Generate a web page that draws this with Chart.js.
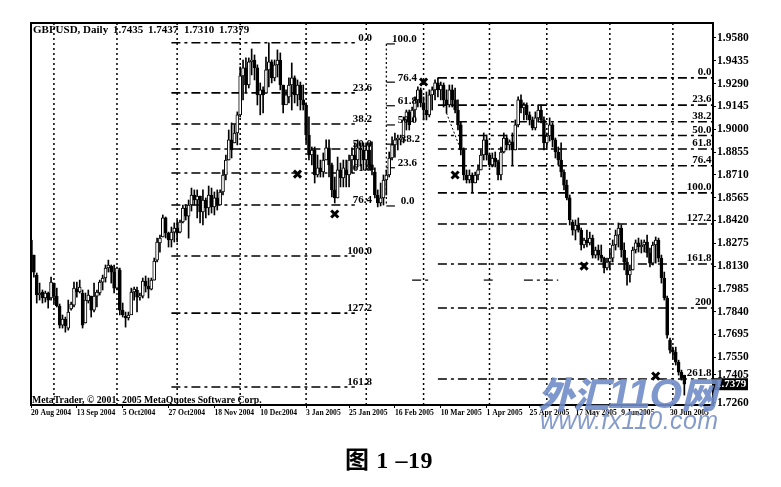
<!DOCTYPE html>
<html><head><meta charset="utf-8">
<script src="https://cdn.jsdelivr.net/npm/chart.js@4"></script>
<style>
html,body{margin:0;padding:0;background:#fff;width:781px;height:487px;overflow:hidden}
#w{position:relative;width:781px;height:487px;filter:blur(.35px)}
canvas{position:absolute;left:0;top:0}
.t{position:absolute;white-space:pre;color:#000;font-family:"Liberation Serif",serif;font-weight:bold}
.h{top:23px;font-size:11px}
</style></head><body>
<div id="w">
<canvas id="c" width="781" height="487"></canvas>
<div class="t h" style="left:33px">GBPUSD, Daily</div>
<div class="t h" style="left:113px">1.7435</div>
<div class="t h" style="left:148px">1.7437</div>
<div class="t h" style="left:184px">1.7310</div>
<div class="t h" style="left:219px">1.7379</div>
<div class="t" style="left:32px;top:394px;font-size:9.8px;">MetaTrader, © 2001- 2005 MetaQuotes Software Corp.</div>
<div class="t" style="left:345px;top:440px;font-size:24px;letter-spacing:.6px"><span style="font-family:'Noto Sans CJK SC'">图</span> 1 –19</div>
<div class="t" style="left:538px;top:366px;font-family:'Noto Sans CJK SC';font-style:italic;font-weight:900;font-size:36px;color:rgba(112,140,198,.9);letter-spacing:-1px;">外汇<span style="font-family:'Liberation Sans';font-size:42px;">11O</span>网</div>
<div class="t" style="left:540px;top:406px;font-family:'Liberation Sans';font-style:italic;font-weight:normal;font-size:25px;color:rgba(125,150,200,.95);letter-spacing:.4px;">www.fx110.com</div>
</div>
<script>
const pair = 'GBPUSD';
const tickIndices = [0,16,32,48,64,80,96,111,127,143,159,174,190,206,223];
const tickLabels = ['20 Aug 2004','13 Sep 2004','5 Oct2004','27 Oct2004','18 Nov 2004','10 Dec2004','3 Jan 2005','25 Jan 2005','16 Feb 2005','10 Mar 2005','1 Apr 2005','25 Apr 2005','17 May 2005','9 Jun2005','30 Jun 2005'];
const yTickValues = [1.9580,1.9435,1.9290,1.9145,1.9000,1.8855,1.8710,1.8565,1.8420,1.8275,1.8130,1.7985,1.7840,1.7695,1.7550,1.7440,1.7260];
const yTickLabels = ['1.9580','1.9435','1.9290','1.9145','1.9000','1.8855','1.8710','1.8565','1.8420','1.8275','1.8130','1.7985','1.7840','1.7695','1.7550','1.7405','1.7260'];

const opens = [1.8296,1.8200,1.8073,1.7946,1.7965,1.7927,1.7959,1.7927,1.8022,1.7939,
1.7876,1.7755,1.7793,1.7736,1.7857,1.7882,1.7984,1.7965,1.7959,1.7768,
1.7908,1.7939,1.7850,1.7939,1.7959,1.8028,1.8054,1.8118,1.8130,1.8092,
1.7990,1.8105,1.7850,1.7812,1.7800,1.7819,1.7965,1.7978,1.7933,1.7939,
1.8035,1.8003,1.7984,1.8041,1.8168,1.8277,1.8315,1.8436,1.8340,1.8296,
1.8346,1.8372,1.8346,1.8410,1.8499,1.8448,1.8518,1.8582,1.8550,1.8575,
1.8474,1.8550,1.8499,1.8582,1.8506,1.8563,1.8518,1.8601,1.8709,1.8804,
1.8932,1.8913,1.8976,1.9091,1.9339,1.9390,1.9281,1.9428,1.9440,1.9390,
1.9218,1.9250,1.9231,1.9377,1.9428,1.9326,1.9409,1.9440,1.9281,1.9154,
1.9205,1.9281,1.9326,1.9218,1.9281,1.9186,1.9154,1.8963,1.8836,1.8868,
1.8709,1.8754,1.8728,1.8804,1.8881,1.8773,1.8614,1.8563,1.8741,1.8690,
1.8741,1.8709,1.8804,1.8836,1.8804,1.8881,1.8868,1.8804,1.8868,1.8773,
1.8728,1.8582,1.8531,1.8563,1.8677,1.8709,1.8817,1.8900,1.8932,1.8932,
1.8944,1.9059,1.9110,1.9046,1.9122,1.9186,1.9250,1.9167,1.9122,1.9091,
1.9218,1.9250,1.9294,1.9250,1.9281,1.9186,1.9154,1.9250,1.9186,1.9122,
1.9027,1.8868,1.8709,1.8677,1.8709,1.8658,1.8709,1.8741,1.8836,1.8932,
1.8836,1.8773,1.8817,1.8792,1.8709,1.8855,1.8944,1.8900,1.8919,1.8868,
1.9027,1.9186,1.9135,1.9154,1.9091,1.9059,1.9008,1.9072,1.9122,1.9059,
1.8913,1.8957,1.9027,1.8932,1.8855,1.8804,1.8728,1.8645,1.8563,1.8410,
1.8359,1.8391,1.8359,1.8264,1.8296,1.8277,1.8308,1.8200,1.8232,1.8200,
1.8181,1.8118,1.8156,1.8181,1.8264,1.8327,1.8372,1.8232,1.8156,1.8073,
1.8105,1.8232,1.8277,1.8251,1.8264,1.8283,1.8213,1.8149,1.8264,1.8296,
1.8181,1.8054,1.7927,1.7660,1.7596,1.7583,1.7520,1.7456,1.7435];

const closes = [1.8200,1.8092,1.7946,1.7959,1.7927,1.7959,1.7914,1.8028,1.7939,1.7876,
1.7755,1.7793,1.7749,1.7838,1.7889,1.7990,1.7965,1.7997,1.7755,1.7914,
1.7946,1.7850,1.7939,1.7965,1.8028,1.8054,1.8118,1.8137,1.8092,1.7990,
1.8118,1.7850,1.7819,1.7800,1.7819,1.7965,1.7984,1.7933,1.7939,1.8035,
1.8003,1.7984,1.8041,1.8162,1.8283,1.8308,1.8436,1.8340,1.8296,1.8346,
1.8372,1.8340,1.8410,1.8499,1.8448,1.8518,1.8582,1.8550,1.8575,1.8474,
1.8550,1.8499,1.8582,1.8506,1.8563,1.8518,1.8601,1.8709,1.8804,1.8932,
1.8868,1.8976,1.9091,1.9339,1.9390,1.9281,1.9428,1.9440,1.9390,1.9218,
1.9250,1.9218,1.9377,1.9428,1.9326,1.9409,1.9440,1.9281,1.9154,1.9218,
1.9281,1.9326,1.9218,1.9281,1.9186,1.9154,1.8963,1.8836,1.8868,1.8709,
1.8754,1.8728,1.8804,1.8881,1.8773,1.8614,1.8563,1.8741,1.8690,1.8754,
1.8709,1.8804,1.8836,1.8804,1.8881,1.8868,1.8804,1.8868,1.8773,1.8741,
1.8582,1.8531,1.8563,1.8677,1.8709,1.8817,1.8900,1.8932,1.8944,1.8944,
1.9059,1.9110,1.9027,1.9122,1.9186,1.9250,1.9167,1.9122,1.9091,1.9218,
1.9250,1.9294,1.9250,1.9281,1.9186,1.9154,1.9250,1.9186,1.9122,1.9027,
1.8868,1.8709,1.8677,1.8709,1.8658,1.8709,1.8741,1.8836,1.8932,1.8836,
1.8773,1.8817,1.8792,1.8709,1.8855,1.8944,1.8900,1.8919,1.8868,1.9027,
1.9186,1.9135,1.9154,1.9091,1.9059,1.9008,1.9072,1.9122,1.9059,1.8913,
1.8957,1.9027,1.8932,1.8855,1.8804,1.8728,1.8645,1.8563,1.8423,1.8359,
1.8391,1.8359,1.8264,1.8296,1.8277,1.8308,1.8200,1.8232,1.8200,1.8181,
1.8118,1.8156,1.8181,1.8264,1.8327,1.8372,1.8232,1.8156,1.8073,1.8105,
1.8232,1.8277,1.8251,1.8264,1.8283,1.8213,1.8149,1.8264,1.8296,1.8181,
1.8054,1.7927,1.7691,1.7596,1.7583,1.7520,1.7456,1.7418,1.7379];

const highs = [1.8315,1.8200,1.8086,1.8022,1.7978,1.7971,1.7965,1.8060,1.8022,1.7990,
1.7889,1.7819,1.7806,1.7914,1.7901,1.8028,1.8028,1.8041,1.7978,1.7959,
1.7978,1.7939,1.8022,1.7978,1.8041,1.8073,1.8137,1.8168,1.8137,1.8137,
1.8124,1.8118,1.7895,1.7838,1.7838,1.7990,1.7997,1.7997,1.7959,1.8054,
1.8067,1.8054,1.8054,1.8181,1.8308,1.8327,1.8455,1.8442,1.8346,1.8378,
1.8404,1.8423,1.8423,1.8518,1.8518,1.8550,1.8626,1.8614,1.8614,1.8575,
1.8614,1.8563,1.8639,1.8626,1.8601,1.8614,1.8614,1.8741,1.8836,1.8995,
1.9040,1.9027,1.9110,1.9396,1.9440,1.9453,1.9453,1.9510,1.9472,1.9409,
1.9294,1.9269,1.9459,1.9549,1.9440,1.9440,1.9504,1.9485,1.9281,1.9250,
1.9326,1.9421,1.9339,1.9313,1.9300,1.9281,1.9167,1.9078,1.8887,1.8887,
1.8836,1.8804,1.8849,1.8932,1.8932,1.8785,1.8696,1.8823,1.8785,1.8804,
1.8804,1.8836,1.8881,1.8913,1.8932,1.8913,1.8913,1.8913,1.8913,1.8919,
1.8754,1.8614,1.8658,1.8709,1.8741,1.8855,1.8951,1.8976,1.8963,1.8963,
1.9078,1.9122,1.9122,1.9141,1.9205,1.9269,1.9262,1.9205,1.9237,1.9250,
1.9269,1.9313,1.9326,1.9300,1.9294,1.9250,1.9281,1.9281,1.9262,1.9186,
1.9046,1.8881,1.8741,1.8741,1.8722,1.8728,1.8773,1.8868,1.8976,1.8963,
1.8849,1.8849,1.8855,1.8804,1.8887,1.8976,1.8963,1.8932,1.8976,1.9059,
1.9205,1.9218,1.9167,1.9167,1.9110,1.9078,1.9110,1.9154,1.9154,1.9078,
1.8976,1.9072,1.9040,1.8944,1.8887,1.8913,1.8741,1.8677,1.8582,1.8423,
1.8423,1.8436,1.8372,1.8308,1.8359,1.8346,1.8327,1.8251,1.8264,1.8264,
1.8187,1.8181,1.8232,1.8296,1.8359,1.8404,1.8391,1.8277,1.8181,1.8137,
1.8251,1.8296,1.8308,1.8296,1.8296,1.8327,1.8245,1.8283,1.8315,1.8308,
1.8200,1.8092,1.7939,1.7672,1.7615,1.7615,1.7532,1.7469,1.7437];

const lows = [1.8181,1.8060,1.7895,1.7914,1.7895,1.7901,1.7863,1.7914,1.7895,1.7870,
1.7736,1.7736,1.7710,1.7723,1.7850,1.7870,1.7933,1.7959,1.7736,1.7768,
1.7895,1.7806,1.7838,1.7870,1.7946,1.7978,1.8028,1.8092,1.8022,1.7959,
1.7978,1.7819,1.7806,1.7742,1.7787,1.7831,1.7914,1.7838,1.7914,1.7927,
1.7965,1.7927,1.7978,1.8041,1.8156,1.8219,1.8315,1.8308,1.8251,1.8251,
1.8283,1.8283,1.8340,1.8404,1.8423,1.8308,1.8480,1.8518,1.8436,1.8404,
1.8391,1.8436,1.8455,1.8467,1.8455,1.8486,1.8518,1.8582,1.8677,1.8804,
1.8817,1.8913,1.8900,1.9078,1.9186,1.9237,1.9262,1.9345,1.9313,1.9154,
1.9091,1.9103,1.9250,1.9269,1.9294,1.9307,1.9332,1.9250,1.9103,1.9167,
1.9167,1.9122,1.9167,1.9148,1.9122,1.9122,1.8913,1.8804,1.8773,1.8658,
1.8696,1.8696,1.8696,1.8804,1.8696,1.8569,1.8531,1.8563,1.8633,1.8633,
1.8633,1.8633,1.8722,1.8741,1.8760,1.8766,1.8741,1.8741,1.8741,1.8709,
1.8563,1.8506,1.8512,1.8518,1.8582,1.8696,1.8804,1.8823,1.8868,1.8900,
1.8913,1.8995,1.8995,1.9059,1.9078,1.9141,1.9141,1.9059,1.9059,1.9078,
1.9122,1.9186,1.9205,1.9186,1.9141,1.9103,1.9141,1.9141,1.9103,1.8995,
1.8836,1.8677,1.8658,1.8658,1.8601,1.8658,1.8677,1.8741,1.8804,1.8804,
1.8760,1.8760,1.8760,1.8677,1.8677,1.8849,1.8868,1.8868,1.8773,1.8868,
1.9014,1.9103,1.9059,1.9059,1.9027,1.8995,1.8995,1.9046,1.9040,1.8868,
1.8881,1.8925,1.8887,1.8817,1.8773,1.8696,1.8614,1.8550,1.8391,1.8327,
1.8296,1.8346,1.8232,1.8245,1.8251,1.8264,1.8181,1.8181,1.8168,1.8156,
1.8086,1.8105,1.8105,1.8156,1.8232,1.8251,1.8187,1.8105,1.8009,1.8028,
1.8105,1.8213,1.8219,1.8213,1.8219,1.8187,1.8124,1.8137,1.8149,1.8156,
1.8022,1.7914,1.7672,1.7577,1.7545,1.7501,1.7437,1.7405,1.7310];

const gridIndices = [8,30,51,73,96,117,137,160,180,202,224];

const fibALevels = [1.9549,1.9231,1.9033,1.8874,1.8722,1.8518,1.8194,1.7831,1.7361];
const fibANames = ['0.0','23.6','38.2','50.0','61.8','76.4','100.0','127.2','161.8'];
const fibAStart = 49, fibAEnd = 113, fibALabelAt = 119;

const fibBLevels = [1.9542,1.9299,1.9149,1.9027,1.8905,1.8755,1.8512];
const fibBNames = ['100.0','76.4','61.8','50.0','38.2','23.6','0.0'];
const fibBLabelAt = [126,128,128,128,129,128,129];
const fibBStart = 124, fibBEnd = 127;

const fibCLevels = [1.9326,1.9153,1.9047,1.8960,1.8874,1.8768,1.8595,1.8397,1.8143,1.7864,1.7412];
const fibCNames = ['0.0','23.6','38.2','50.0','61.8','76.4','100.0','127.2','161.8','200','261.8'];
const fibCStart = 142, fibCEnd = 238, fibCLabelAt = 237.5;

const crossX = [93,106,137,148,193,218];
const crossY = [1.8715,1.8461,1.9300,1.8709,1.8130,1.7431];

const scrapX0 = [133,158,172], scrapX1 = [139,162,184], scrapLevel = 1.8041;
const trendX = [145,150], trendY = [1.9103,1.8868];
const xMin = 0, xMax = 238, yMin = 1.7247, yMax = 1.9675;
const lastClose = closes[closes.length-1];

const ds = [];
function hline(x0,x1,y,w){ds.push({type:'line',data:[{x:x0,y},{x:x1,y}],borderColor:'#000',borderWidth:w||1.6,borderDash:[9,4,3,4],pointRadius:0,order:5,clip:false});}
gridIndices.forEach(i=>ds.push({type:'line',data:[{x:i,y:yMin},{x:i,y:yMax}],borderColor:'#000',borderWidth:1.5,borderDash:[2,3],pointRadius:0,order:6}));
fibALevels.forEach(v=>hline(fibAStart,fibAEnd,v));
fibCLevels.forEach(v=>hline(fibCStart,fibCEnd,v));
fibBLevels.forEach(v=>ds.push({type:'line',data:[{x:fibBStart,y:v},{x:fibBEnd,y:v}],borderColor:'#000',borderWidth:1.2,pointRadius:0,order:5}));
ds.push({type:'line',data:[{x:fibBStart,y:fibBLevels[0]},{x:fibBStart,y:fibBLevels[6]}],borderColor:'#000',borderWidth:1.2,borderDash:[2,2.5],pointRadius:0,order:5});
scrapX0.forEach((x,k)=>hline(x,scrapX1[k],scrapLevel,1.2));
ds.push({type:'line',data:trendX.map((x,k)=>({x,y:trendY[k]})),borderColor:'#000',borderWidth:1,borderDash:[2,2],pointRadius:0,order:4});
ds.push({type:'bar',grouped:false,order:3,barThickness:1,backgroundColor:'#000',
  data:highs.map((h,i)=>({x:i,y:[lows[i],h]}))});
ds.push({type:'bar',grouped:false,order:2,barThickness:3,borderWidth:1,borderColor:'#000',borderSkipped:false,
  backgroundColor:c=>closes[c.dataIndex]>opens[c.dataIndex]?'#fff':'#000',
  data:opens.map((o,i)=>({x:i,y:[o,closes[i]]}))});
ds.push({type:'scatter',order:1,data:crossX.map((x,k)=>({x,y:crossY[k]})),pointStyle:'crossRot',pointRadius:5,pointBorderWidth:3,pointBorderColor:'#000',borderColor:'#000',showLine:false});

const FONT='bold 11px "Liberation Serif", serif';
const decor={id:'decor',afterDatasetsDraw(ch){
  const {ctx,chartArea:a,scales:{x,y}}=ch;
  ctx.save();
  ctx.strokeStyle='#000';ctx.lineWidth=2;
  ctx.strokeRect(a.left,a.top,a.right-a.left,a.bottom-a.top);
  ctx.font=FONT;ctx.fillStyle='#000';ctx.textBaseline='bottom';
  ctx.textAlign='right';
  fibANames.forEach((n,k)=>ctx.fillText(n,x.getPixelForValue(fibALabelAt),y.getPixelForValue(fibALevels[k])+1));
  fibCNames.forEach((n,k)=>ctx.fillText(n,x.getPixelForValue(fibCLabelAt),y.getPixelForValue(fibCLevels[k])));
  ctx.textAlign='left';
  fibBNames.forEach((n,k)=>ctx.fillText(n,x.getPixelForValue(fibBLabelAt[k]),y.getPixelForValue(fibBLevels[k])+1));
  const py=y.getPixelForValue(lastClose);
  ctx.fillStyle='#000';ctx.fillRect(a.right+1,py-6,34,12);
  ctx.fillStyle='#fff';ctx.textBaseline='middle';
  ctx.fillText(lastClose.toFixed(4),a.right+3,py);
  ctx.restore();
}};

new Chart(document.getElementById('c'),{
  data:{datasets:ds},
  plugins:[decor],
  options:{responsive:false,animation:false,
    layout:{autoPadding:false,padding:{left:31,top:23,right:0,bottom:0}},
    plugins:{legend:{display:false},tooltip:{enabled:false},title:{display:false}},
    scales:{
      x:{type:'linear',position:'bottom',min:xMin,max:xMax,offset:false,
        afterFit:s=>{s.height=82},
        afterBuildTicks:s=>{s.ticks=tickIndices.map(v=>({value:v}))},
        grid:{offset:false,drawOnChartArea:false,drawTicks:true,tickLength:3,color:'#000',lineWidth:1},
        border:{display:false},
        ticks:{autoSkip:false,maxRotation:0,minRotation:0,align:'start',padding:0,color:'#000',
          font:{family:'"Liberation Serif", serif',size:7.6,weight:'bold'},
          callback:v=>tickLabels[tickIndices.indexOf(v)]}},
      y:{type:'linear',position:'right',min:yMin,max:yMax,
        afterFit:s=>{s.width=68},
        afterBuildTicks:s=>{s.ticks=yTickValues.map(v=>({value:v}))},
        grid:{drawOnChartArea:false,drawTicks:true,tickLength:3,color:'#000',lineWidth:1},
        border:{display:false},
        ticks:{autoSkip:false,padding:1,color:'#000',
          font:{family:'"Liberation Serif", serif',size:11.5,weight:'bold'},
          callback:v=>yTickLabels[yTickValues.indexOf(v)]}}
    }}
});
</script>
</body></html>
